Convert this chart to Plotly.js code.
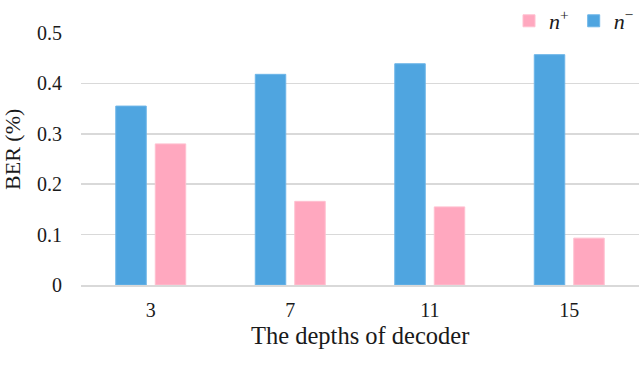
<!DOCTYPE html>
<html>
<head>
<meta charset="utf-8">
<script src="https://cdn.plot.ly/plotly-3.0.1.min.js"></script>
<style>
html,body{margin:0;padding:0;background:#fff;}
#chart{width:640px;height:383px;}
#chart svg text{font-family:"Liberation Serif","Times New Roman",serif !important;}
</style>
</head>
<body>
<div id="chart"></div>
<script>
const categories = ["3", "7", "11", "15"];
const nMinus = [0.355, 0.418, 0.439, 0.457];
const nPlus = [0.280, 0.166, 0.155, 0.093];
const yTicks = [0, 0.1, 0.2, 0.3, 0.4, 0.5];
const yTickText = ["0", "0.1", "0.2", "0.3", "0.4", "0.5"];
const xTitle = "The depths of decoder";
const yTitle = "BER (%)";

const font = "Liberation Serif";
const ink = "#1a1a1a";
const traces = [
  {type: "bar", x: categories, y: nMinus, name: "<i>n</i><sup>−</sup>",
   marker: {color: "#4FA5E0", line: {color: "#6DB5E8", width: 1}}},
  {type: "bar", x: categories, y: nPlus, name: "<i>n</i><sup>+</sup>",
   marker: {color: "#FFA8BF", line: {color: "#FFC0D0", width: 1}}}
];
const layout = {
  width: 640, height: 383,
  margin: {l: 81, r: 1, t: 33, b: 98, autoexpand: false},
  paper_bgcolor: "#fff", plot_bgcolor: "#fff",
  font: {family: font, color: ink, size: 20},
  barmode: "group", bargap: 0.434, bargroupgap: 0.228,
  showlegend: true,
  legend: {orientation: "h", x: 1.0, xanchor: "right", y: 1.131, yanchor: "top",
           traceorder: "reversed", font: {size: 22, family: font, color: ink},
           itemwidth: 30, bgcolor: "rgba(0,0,0,0)"},
  xaxis: {type: "category", showgrid: false, showline: true, linecolor: "#D9D9D9", linewidth: 1.5,
          ticks: "", ticklabelstandoff: 6, tickfont: {size: 20, family: font, color: ink}},
  yaxis: {range: [0, 0.5], tickvals: yTicks, ticktext: yTickText, showgrid: true,
          gridcolor: "#D9D9D9", gridwidth: 1.5, zeroline: false, ticks: "", ticklabelstandoff: 18,
          tickfont: {size: 20, family: font, color: ink}},
  annotations: [
    {text: xTitle, xref: "paper", yref: "paper", x: 0.5, y: -0.2, xanchor: "center", yanchor: "middle",
     showarrow: false, font: {size: 24.5, family: font, color: ink}},
    {text: yTitle, xref: "paper", yref: "paper", x: -0.1218, y: 0.536, xanchor: "center", yanchor: "middle",
     textangle: -90, showarrow: false, font: {size: 22, family: font, color: ink}}
  ]
};
Plotly.newPlot("chart", traces, layout, {displayModeBar: false, staticPlot: true});
</script>
</body>
</html>
